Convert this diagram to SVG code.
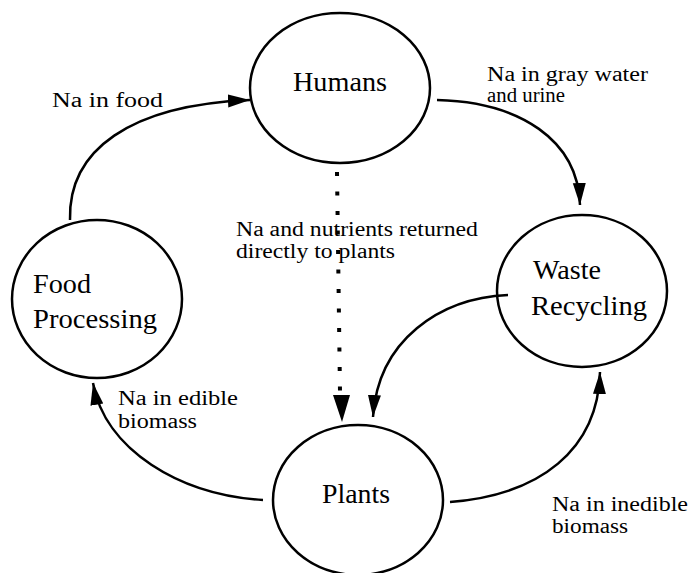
<svg xmlns="http://www.w3.org/2000/svg" width="690" height="573" viewBox="0 0 690 573">
<style>
.node{fill:none;stroke:#000;stroke-width:2.5}
.lbl{font-family:"Liberation Serif","Times New Roman",serif;font-size:27px;fill:#000}
.edge{font-family:"Liberation Serif","Times New Roman",serif;font-size:20px;fill:#000}
.con{fill:none;stroke:#000;stroke-width:2.5}
.dot{fill:none;stroke:#000;stroke-width:4;stroke-dasharray:4 15.5}
</style>
<defs>
<marker id="ah" markerUnits="userSpaceOnUse" markerWidth="24" markerHeight="14" refX="22" refY="6.5" orient="auto"><path d="M0,0 L22,6.5 L0,13 Z" fill="#000"/></marker>
</defs>
<g id="connectors">
<path class="con" d="M70,220 C68,150 130,105 250,100" marker-end="url(#ah)"/>
<path class="con" d="M437,100 C520,102 578,140 580,205" marker-end="url(#ah)"/>
<path class="con" d="M508,295 C440,298 378,340 373,417" marker-end="url(#ah)"/>
<path class="con" d="M450,502 C540,495 598,450 600,372" marker-end="url(#ah)"/>
<path class="con" d="M263,500 C180,495 105,450 93,383" marker-end="url(#ah)"/>
<path class="dot" d="M337,172 L340,392"/>
<path d="M333,395 L350,395 L342,422 Z" fill="#000"/>
<text class="edge" x="52" y="107" textLength="111" lengthAdjust="spacingAndGlyphs">Na in food</text>
<text class="edge" x="487" y="81" textLength="161" lengthAdjust="spacingAndGlyphs">Na in gray water</text>
<text class="edge" x="487" y="102" textLength="78" lengthAdjust="spacingAndGlyphs">and urine</text>
<text class="edge" x="236" y="236" textLength="242" lengthAdjust="spacingAndGlyphs">Na and nutrients returned</text>
<text class="edge" x="236" y="258" textLength="159" lengthAdjust="spacingAndGlyphs">directly to plants</text>
<text class="edge" x="118" y="405" textLength="120" lengthAdjust="spacingAndGlyphs">Na in edible</text>
<text class="edge" x="118" y="428" textLength="79" lengthAdjust="spacingAndGlyphs">biomass</text>
<text class="edge" x="552" y="511" textLength="136" lengthAdjust="spacingAndGlyphs">Na in inedible</text>
<text class="edge" x="552" y="533" textLength="76" lengthAdjust="spacingAndGlyphs">biomass</text>
</g>
<g id="humans">
<ellipse class="node" cx="340" cy="88" rx="90" ry="75"/>
<text class="lbl" x="293" y="91" textLength="94" lengthAdjust="spacingAndGlyphs">Humans</text>
</g>
<g id="food-processing">
<ellipse class="node" cx="97" cy="299" rx="85" ry="79"/>
<text class="lbl" x="33" y="293" textLength="58" lengthAdjust="spacingAndGlyphs">Food</text>
<text class="lbl" x="33" y="328" textLength="124" lengthAdjust="spacingAndGlyphs">Processing</text>
</g>
<g id="waste-recycling">
<ellipse class="node" cx="582" cy="291" rx="85" ry="76"/>
<text class="lbl" x="533" y="279" textLength="68" lengthAdjust="spacingAndGlyphs">Waste</text>
<text class="lbl" x="531" y="315" textLength="116" lengthAdjust="spacingAndGlyphs">Recycling</text>
</g>
<g id="plants">
<ellipse class="node" cx="358" cy="500" rx="85" ry="75"/>
<text class="lbl" x="322" y="503" textLength="68" lengthAdjust="spacingAndGlyphs">Plants</text>
</g>
</svg>
